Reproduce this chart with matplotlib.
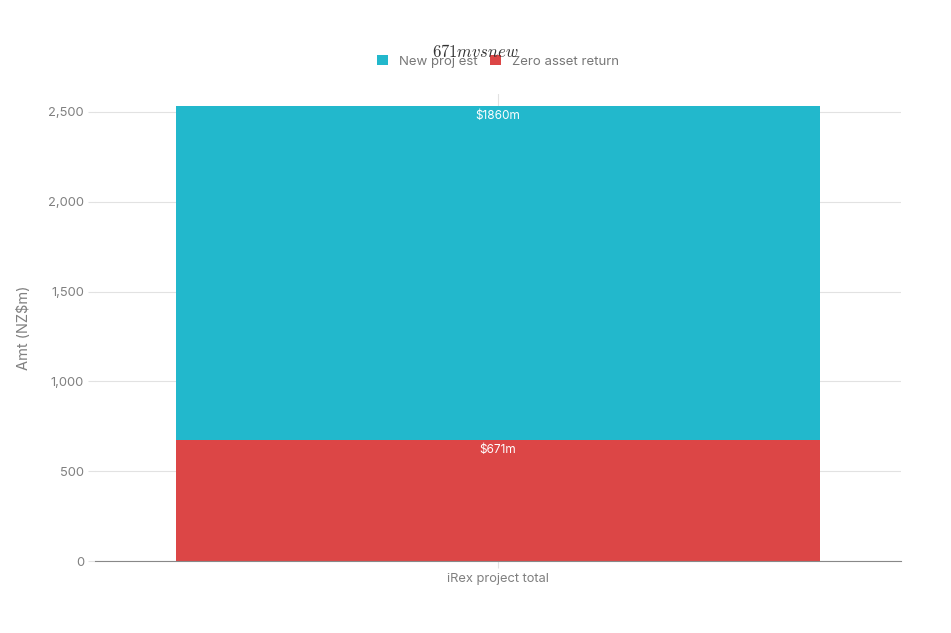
import matplotlib.pyplot as plt

plt.rcParams['font.family'] = ['Inter', 'DejaVu Sans']
plt.rcParams['mathtext.fontset'] = 'cm'

categories = ['iRex project total']
zero_asset = [671]
new_proj = [1860]
series_names = ['New proj est', 'Zero asset return']
colors = ['#22b8cc', '#dc4646']
grey = '#808080'

fig = plt.figure(figsize=(9.51, 6.33), dpi=100)
ax = fig.add_axes([0.0999, 0.1137, 0.8475, 0.7378])

b1 = ax.bar(categories, zero_asset, width=0.8, color=colors[1], zorder=2,
            label=series_names[1])
b2 = ax.bar(categories, new_proj, width=0.8, bottom=zero_asset,
            color=colors[0], zorder=2, label=series_names[0])

for bars, vals, base in [(b1, zero_asset, [0]), (b2, new_proj, zero_asset)]:
    for rect, v, b in zip(bars, vals, base):
        ax.annotate(f'\\${v}m', (rect.get_x() + rect.get_width() / 2, b + v),
                    xytext=(0, -7), textcoords='offset points',
                    ha='center', va='center', color='white', fontsize=8.5,
                    zorder=3)

ax.set_xlim(-0.5, 0.5)
ax.set_ylim(0, 2600)
ax.set_yticks([0, 500, 1000, 1500, 2000, 2500])
ax.set_yticklabels([f'{t:,}' for t in [0, 500, 1000, 1500, 2000, 2500]])
ax.grid(True, color='#e2e2e2', linewidth=0.8, zorder=0)
ax.set_axisbelow(True)
for s in ['top', 'right', 'left']:
    ax.spines[s].set_visible(False)
ax.spines['bottom'].set_color('#888888')
ax.tick_params(axis='both', colors='#e2e2e2', labelcolor=grey, labelsize=9.3,
               length=5)
ax.tick_params(axis='y', pad=3)
ax.set_ylabel('Amt (NZ\\$m)', color=grey, fontsize=10.5, labelpad=12)

fig.suptitle('$671m vs new$', y=0.932, fontsize=12, color='#333333')
handles = [b2, b1]
ax.legend(handles, series_names, loc='lower center', bbox_to_anchor=(0.5, 1.045),
          ncol=2, frameon=False, fontsize=9.5, labelcolor='#777777',
          handlelength=0.8, handleheight=0.8, handletextpad=0.8,
          columnspacing=1.0, borderaxespad=0)

fig.savefig('out.png', dpi=100)
